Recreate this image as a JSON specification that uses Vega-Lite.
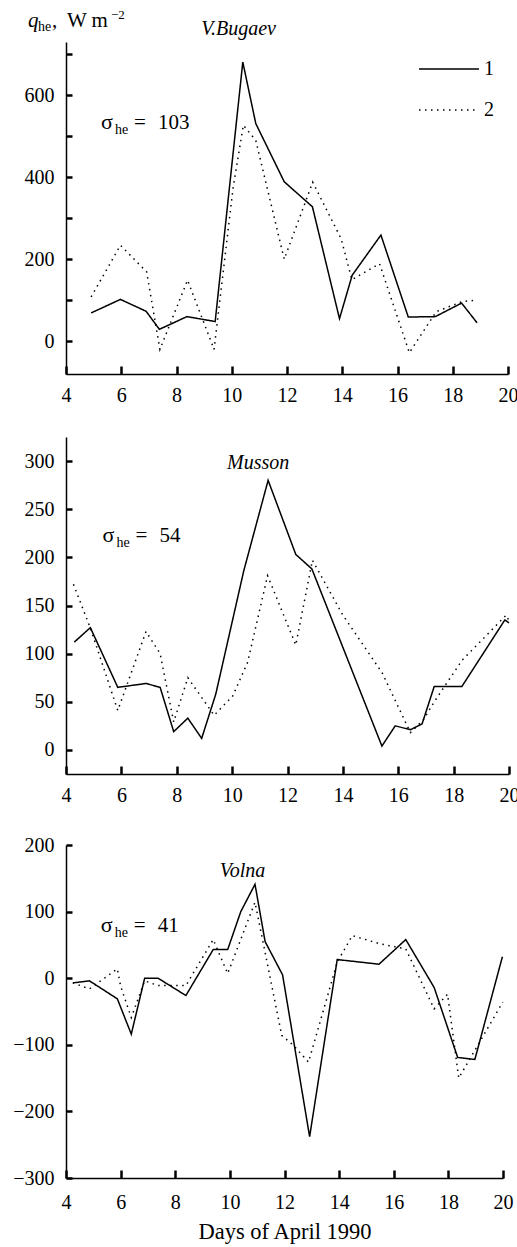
{
  "$schema": "https://vega.github.io/schema/vega-lite/v6.json",
  "padding": {"left": 12, "top": 8, "right": 2, "bottom": 2},
  "config": {
    "view": {"stroke": null},
    "font": "Liberation Serif",
    "axis": {"domainColor": "black", "domainWidth": 1.5, "ticks": true, "tickColor": "black", "tickWidth": 2.5, "grid": false, "zindex": 1,
      "labelFont": "Liberation Serif", "labelFontSize": 20, "labelColor": "black", "labelFlush": false, "labelOverlap": false, "labelBound": false,
      "titleFont": "Liberation Serif", "titleFontWeight": "normal", "titleFontSize": 22.5, "titleColor": "black"},
    "legend": {"labelFont": "Liberation Serif"},
    "text": {"font": "Liberation Serif", "color": "black"}
  },
  "resolve": {"scale": {"x": "independent", "y": "independent", "strokeDash": "independent"}, "legend": {"strokeDash": "independent"}},
  "bounds": "flush",
  "spacing": 63,
  "vconcat": [
    {
      "width": 442, "height": 332,
      "layer": [
        {
          "data": {"values": [
            {"day": 4.91, "q": 69, "s": "1"}, {"day": 5.97, "q": 102, "s": "1"}, {"day": 6.9, "q": 73, "s": "1"}, {"day": 7.38, "q": 29, "s": "1"}, {"day": 8.38, "q": 60, "s": "1"}, {"day": 9.4, "q": 48, "s": "1"}, {"day": 10.4, "q": 681, "s": "1"}, {"day": 10.87, "q": 531, "s": "1"}, {"day": 11.9, "q": 389, "s": "1"}, {"day": 12.92, "q": 328, "s": "1"}, {"day": 13.9, "q": 55, "s": "1"}, {"day": 14.36, "q": 161, "s": "1"}, {"day": 15.4, "q": 259, "s": "1"}, {"day": 16.39, "q": 59, "s": "1"}, {"day": 17.37, "q": 60, "s": "1"}, {"day": 18.32, "q": 93, "s": "1"}, {"day": 18.88, "q": 45, "s": "1"},
            {"day": 4.91, "q": 108, "s": "2"}, {"day": 5.97, "q": 234, "s": "2"}, {"day": 6.92, "q": 169, "s": "2"}, {"day": 7.4, "q": -20, "s": "2"}, {"day": 8.4, "q": 149, "s": "2"}, {"day": 9.36, "q": -20, "s": "2"}, {"day": 10.05, "q": 375, "s": "2"}, {"day": 10.42, "q": 527, "s": "2"}, {"day": 10.87, "q": 490, "s": "2"}, {"day": 11.9, "q": 200, "s": "2"}, {"day": 12.93, "q": 388, "s": "2"}, {"day": 13.96, "q": 250, "s": "2"}, {"day": 14.35, "q": 150, "s": "2"}, {"day": 15.35, "q": 189, "s": "2"}, {"day": 16.43, "q": -28, "s": "2"}, {"day": 17.4, "q": 72, "s": "2"}, {"day": 18.35, "q": 97, "s": "2"}, {"day": 18.85, "q": 100, "s": "2"}
          ]},
          "mark": {"type": "line", "color": "black", "strokeWidth": 1.5},
          "encoding": {
            "x": {"field": "day", "type": "quantitative", "scale": {"domain": [4, 20], "nice": false},
              "axis": {"title": null, "values": [4,5,6,7,8,9,10,11,12,13,14,15,16,17,18,19,20], "labelExpr": "datum.value % 2 === 0 ? datum.label : ''",
                "tickSize": -8, "labelPadding": 19}},
            "y": {"field": "q", "type": "quantitative", "scale": {"domain": [-80, 730], "nice": false, "zero": false},
              "axis": {"title": null, "values": [0,100,200,300,400,500,600,700], "labelExpr": "datum.value % 200 === 0 ? datum.label : ''",
                "tickSize": -6, "labelPadding": 18}},
            "strokeDash": {"field": "s", "type": "nominal", "scale": {"domain": ["1", "2"], "range": [[1, 0], [1.5, 4.5]]},
              "legend": {"orient": "none", "legendX": 352, "legendY": -4, "title": null, "symbolType": "stroke", "symbolSize": 3600, "symbolStrokeWidth": 1.5, "symbolStrokeColor": "black", "labelFont": "Liberation Serif", "labelFontSize": 20, "labelColor": "black", "labelOffset": 4, "rowPadding": -26}}
          }
        },
        {"data": {"values": [{"day": 10.25, "q": 747, "label": "V.Bugaev"}]}, "mark": {"type": "text", "font": "Liberation Serif", "fontSize": 20, "fontStyle": "italic", "align": "center", "baseline": "alphabetic"},
          "encoding": {"x": {"field": "day", "type": "quantitative"}, "y": {"field": "q", "type": "quantitative"}, "text": {"field": "label"}}},
        {"data": {"values": [{"day": 2.62, "q": 767}]}, "mark": {"type": "text", "font": "Liberation Serif", "text": "q", "fontSize": 21, "fontStyle": "italic", "align": "left", "baseline": "alphabetic"},
          "encoding": {"x": {"field": "day", "type": "quantitative"}, "y": {"field": "q", "type": "quantitative"}}},
        {"data": {"values": [{"day": 2.62, "q": 767}]}, "mark": {"type": "text", "font": "Liberation Serif", "text": "he", "fontSize": 14, "align": "left", "baseline": "alphabetic", "dx": 10, "dy": 4},
          "encoding": {"x": {"field": "day", "type": "quantitative"}, "y": {"field": "q", "type": "quantitative"}}},
        {"data": {"values": [{"day": 2.62, "q": 767}]}, "mark": {"type": "text", "font": "Liberation Serif", "text": ",", "fontSize": 21, "align": "left", "baseline": "alphabetic", "dx": 24},
          "encoding": {"x": {"field": "day", "type": "quantitative"}, "y": {"field": "q", "type": "quantitative"}}},
        {"data": {"values": [{"day": 2.62, "q": 767}]}, "mark": {"type": "text", "font": "Liberation Serif", "text": "W m", "fontSize": 21, "align": "left", "baseline": "alphabetic", "dx": 39},
          "encoding": {"x": {"field": "day", "type": "quantitative"}, "y": {"field": "q", "type": "quantitative"}}},
        {"data": {"values": [{"day": 2.62, "q": 767}]}, "mark": {"type": "text", "font": "Liberation Serif", "text": "−2", "fontSize": 13, "align": "left", "baseline": "alphabetic", "dx": 83, "dy": -8},
          "encoding": {"x": {"field": "day", "type": "quantitative"}, "y": {"field": "q", "type": "quantitative"}}},
        {"data": {"values": [{"day": 5.27, "q": 518, "v": "103"}]}, "mark": {"type": "text", "font": "Liberation Serif", "text": "σ", "fontSize": 22, "align": "left", "baseline": "alphabetic"},
          "encoding": {"x": {"field": "day", "type": "quantitative"}, "y": {"field": "q", "type": "quantitative"}}},
        {"data": {"values": [{"day": 5.27, "q": 518, "v": "103"}]}, "mark": {"type": "text", "font": "Liberation Serif", "text": "he", "fontSize": 14, "align": "left", "baseline": "alphabetic", "dx": 14, "dy": 5},
          "encoding": {"x": {"field": "day", "type": "quantitative"}, "y": {"field": "q", "type": "quantitative"}}},
        {"data": {"values": [{"day": 5.27, "q": 518, "v": "103"}]}, "mark": {"type": "text", "font": "Liberation Serif", "text": "=", "fontSize": 21, "align": "left", "baseline": "alphabetic", "dx": 33},
          "encoding": {"x": {"field": "day", "type": "quantitative"}, "y": {"field": "q", "type": "quantitative"}}},
        {"data": {"values": [{"day": 5.27, "q": 518, "v": "103"}]}, "mark": {"type": "text", "font": "Liberation Serif", "fontSize": 21, "align": "left", "baseline": "alphabetic", "dx": 57},
          "encoding": {"x": {"field": "day", "type": "quantitative"}, "y": {"field": "q", "type": "quantitative"}, "text": {"field": "v"}}}
      ]
    },
    {
      "bounds": "flush",
      "spacing": 71,
      "resolve": {"scale": {"x": "independent", "y": "independent", "strokeDash": "independent"}, "legend": {"strokeDash": "independent"}},
      "vconcat": [
        {
          "width": 443, "height": 337,
          "layer": [
            {
              "data": {"values": [
                {"day": 4.3, "q": 112, "s": "1"}, {"day": 4.88, "q": 127, "s": "1"}, {"day": 5.87, "q": 65, "s": "1"}, {"day": 6.89, "q": 69, "s": "1"}, {"day": 7.4, "q": 65, "s": "1"}, {"day": 7.89, "q": 19, "s": "1"}, {"day": 8.4, "q": 33, "s": "1"}, {"day": 8.9, "q": 12, "s": "1"}, {"day": 9.41, "q": 58, "s": "1"}, {"day": 10.42, "q": 186, "s": "1"}, {"day": 11.3, "q": 280, "s": "1"}, {"day": 12.3, "q": 203, "s": "1"}, {"day": 12.88, "q": 188, "s": "1"}, {"day": 15.41, "q": 4, "s": "1"}, {"day": 15.89, "q": 25, "s": "1"}, {"day": 16.44, "q": 21, "s": "1"}, {"day": 16.86, "q": 27, "s": "1"}, {"day": 17.3, "q": 66, "s": "1"}, {"day": 18.3, "q": 66, "s": "1"}, {"day": 19.85, "q": 135, "s": "1"}, {"day": 20.0, "q": 132, "s": "1"},
                {"day": 4.27, "q": 172, "s": "2"}, {"day": 4.9, "q": 125, "s": "2"}, {"day": 5.87, "q": 41, "s": "2"}, {"day": 6.89, "q": 123, "s": "2"}, {"day": 7.4, "q": 100, "s": "2"}, {"day": 7.89, "q": 29, "s": "2"}, {"day": 8.4, "q": 75, "s": "2"}, {"day": 9.35, "q": 36, "s": "2"}, {"day": 10.02, "q": 56, "s": "2"}, {"day": 10.56, "q": 91, "s": "2"}, {"day": 11.28, "q": 181, "s": "2"}, {"day": 12.3, "q": 109, "s": "2"}, {"day": 12.9, "q": 197, "s": "2"}, {"day": 14.0, "q": 140, "s": "2"}, {"day": 15.42, "q": 80, "s": "2"}, {"day": 16.44, "q": 18, "s": "2"}, {"day": 16.9, "q": 31, "s": "2"}, {"day": 17.3, "q": 50, "s": "2"}, {"day": 18.3, "q": 93, "s": "2"}, {"day": 19.9, "q": 140, "s": "2"}, {"day": 20.0, "q": 134, "s": "2"}
              ]},
              "mark": {"type": "line", "color": "black", "strokeWidth": 1.5},
              "encoding": {
                "x": {"field": "day", "type": "quantitative", "scale": {"domain": [4, 20], "nice": false},
                  "axis": {"title": null, "values": [4,5,6,7,8,9,10,11,12,13,14,15,16,17,18,19,20], "labelExpr": "datum.value % 2 === 0 ? datum.label : ''",
                    "tickSize": -8, "labelPadding": 19}},
                "y": {"field": "q", "type": "quantitative", "scale": {"domain": [-25, 325], "nice": false, "zero": false},
                  "axis": {"title": null, "values": [0,25,50,75,100,125,150,175,200,225,250,275,300,325], "labelExpr": "datum.value % 50 === 0 ? datum.label : ''",
                    "tickSize": -6, "labelPadding": 18}},
                "strokeDash": {"field": "s", "type": "nominal", "scale": {"domain": ["1", "2"], "range": [[1, 0], [1.5, 4.5]]}, "legend": null}
              }
            },
            {"data": {"values": [{"day": 10.94, "q": 292, "label": "Musson"}]}, "mark": {"type": "text", "font": "Liberation Serif", "fontSize": 20, "fontStyle": "italic", "align": "center", "baseline": "alphabetic"},
              "encoding": {"x": {"field": "day", "type": "quantitative"}, "y": {"field": "q", "type": "quantitative"}, "text": {"field": "label"}}},
            {"data": {"values": [{"day": 5.32, "q": 216, "v": "54"}]}, "mark": {"type": "text", "font": "Liberation Serif", "text": "σ", "fontSize": 22, "align": "left", "baseline": "alphabetic"},
              "encoding": {"x": {"field": "day", "type": "quantitative"}, "y": {"field": "q", "type": "quantitative"}}},
            {"data": {"values": [{"day": 5.32, "q": 216, "v": "54"}]}, "mark": {"type": "text", "font": "Liberation Serif", "text": "he", "fontSize": 14, "align": "left", "baseline": "alphabetic", "dx": 14, "dy": 5},
              "encoding": {"x": {"field": "day", "type": "quantitative"}, "y": {"field": "q", "type": "quantitative"}}},
            {"data": {"values": [{"day": 5.32, "q": 216, "v": "54"}]}, "mark": {"type": "text", "font": "Liberation Serif", "text": "=", "fontSize": 21, "align": "left", "baseline": "alphabetic", "dx": 33},
              "encoding": {"x": {"field": "day", "type": "quantitative"}, "y": {"field": "q", "type": "quantitative"}}},
            {"data": {"values": [{"day": 5.32, "q": 216, "v": "54"}]}, "mark": {"type": "text", "font": "Liberation Serif", "fontSize": 21, "align": "left", "baseline": "alphabetic", "dx": 57},
              "encoding": {"x": {"field": "day", "type": "quantitative"}, "y": {"field": "q", "type": "quantitative"}, "text": {"field": "v"}}}
          ]
        },
        {
          "width": 437, "height": 333,
          "layer": [
            {
              "data": {"values": [
                {"day": 4.25, "q": -7, "s": "1"}, {"day": 4.86, "q": -4, "s": "1"}, {"day": 5.88, "q": -31, "s": "1"}, {"day": 6.39, "q": -84, "s": "1"}, {"day": 6.88, "q": 0, "s": "1"}, {"day": 7.37, "q": 0, "s": "1"}, {"day": 8.39, "q": -26, "s": "1"}, {"day": 9.39, "q": 43, "s": "1"}, {"day": 9.92, "q": 43, "s": "1"}, {"day": 10.4, "q": 100, "s": "1"}, {"day": 10.92, "q": 141, "s": "1"}, {"day": 11.29, "q": 55, "s": "1"}, {"day": 11.93, "q": 5, "s": "1"}, {"day": 12.92, "q": -238, "s": "1"}, {"day": 13.93, "q": 28, "s": "1"}, {"day": 15.46, "q": 21, "s": "1"}, {"day": 16.44, "q": 58, "s": "1"}, {"day": 17.48, "q": -14, "s": "1"}, {"day": 18.34, "q": -119, "s": "1"}, {"day": 18.97, "q": -122, "s": "1"}, {"day": 19.97, "q": 31, "s": "1"}, {"day": 20.0, "q": 31, "s": "1"},
                {"day": 4.25, "q": -7, "s": "2"}, {"day": 4.86, "q": -16, "s": "2"}, {"day": 5.88, "q": 14, "s": "2"}, {"day": 6.0, "q": -12, "s": "2"}, {"day": 6.39, "q": -59, "s": "2"}, {"day": 6.88, "q": -4, "s": "2"}, {"day": 7.37, "q": -11, "s": "2"}, {"day": 8.39, "q": -11, "s": "2"}, {"day": 9.39, "q": 58, "s": "2"}, {"day": 9.92, "q": 7, "s": "2"}, {"day": 10.92, "q": 114, "s": "2"}, {"day": 11.9, "q": -86, "s": "2"}, {"day": 12.33, "q": -101, "s": "2"}, {"day": 12.88, "q": -126, "s": "2"}, {"day": 13.93, "q": 24, "s": "2"}, {"day": 14.48, "q": 64, "s": "2"}, {"day": 15.46, "q": 52, "s": "2"}, {"day": 16.44, "q": 44, "s": "2"}, {"day": 17.48, "q": -46, "s": "2"}, {"day": 17.97, "q": -24, "s": "2"}, {"day": 18.38, "q": -150, "s": "2"}, {"day": 19.99, "q": -36, "s": "2"}
              ]},
              "mark": {"type": "line", "color": "black", "strokeWidth": 1.5},
              "encoding": {
                "x": {"field": "day", "type": "quantitative", "scale": {"domain": [4, 20], "nice": false},
                  "axis": {"title": "Days of April 1990", "titlePadding": 8, "values": [4,5,6,7,8,9,10,11,12,13,14,15,16,17,18,19,20], "labelExpr": "datum.value % 2 === 0 ? datum.label : ''",
                    "tickSize": -8, "labelPadding": 22}},
                "y": {"field": "q", "type": "quantitative", "scale": {"domain": [-300, 200], "nice": false, "zero": false},
                  "axis": {"title": null, "values": [-300,-250,-200,-150,-100,-50,0,50,100,150,200], "labelExpr": "datum.value % 100 === 0 ? datum.label : ''",
                    "tickSize": -6, "labelPadding": 18}},
                "strokeDash": {"field": "s", "type": "nominal", "scale": {"domain": ["1", "2"], "range": [[1, 0], [1.5, 4.5]]}, "legend": null}
              }
            },
            {"data": {"values": [{"day": 10.46, "q": 152, "label": "Volna"}]}, "mark": {"type": "text", "font": "Liberation Serif", "fontSize": 20, "fontStyle": "italic", "align": "center", "baseline": "alphabetic"},
              "encoding": {"x": {"field": "day", "type": "quantitative"}, "y": {"field": "q", "type": "quantitative"}, "text": {"field": "label"}}},
            {"data": {"values": [{"day": 5.27, "q": 69, "v": "41"}]}, "mark": {"type": "text", "font": "Liberation Serif", "text": "σ", "fontSize": 22, "align": "left", "baseline": "alphabetic"},
              "encoding": {"x": {"field": "day", "type": "quantitative"}, "y": {"field": "q", "type": "quantitative"}}},
            {"data": {"values": [{"day": 5.27, "q": 69, "v": "41"}]}, "mark": {"type": "text", "font": "Liberation Serif", "text": "he", "fontSize": 14, "align": "left", "baseline": "alphabetic", "dx": 14, "dy": 5},
              "encoding": {"x": {"field": "day", "type": "quantitative"}, "y": {"field": "q", "type": "quantitative"}}},
            {"data": {"values": [{"day": 5.27, "q": 69, "v": "41"}]}, "mark": {"type": "text", "font": "Liberation Serif", "text": "=", "fontSize": 21, "align": "left", "baseline": "alphabetic", "dx": 33},
              "encoding": {"x": {"field": "day", "type": "quantitative"}, "y": {"field": "q", "type": "quantitative"}}},
            {"data": {"values": [{"day": 5.27, "q": 69, "v": "41"}]}, "mark": {"type": "text", "font": "Liberation Serif", "fontSize": 21, "align": "left", "baseline": "alphabetic", "dx": 57},
              "encoding": {"x": {"field": "day", "type": "quantitative"}, "y": {"field": "q", "type": "quantitative"}, "text": {"field": "v"}}}
          ]
        }
      ]
    }
  ]
}
